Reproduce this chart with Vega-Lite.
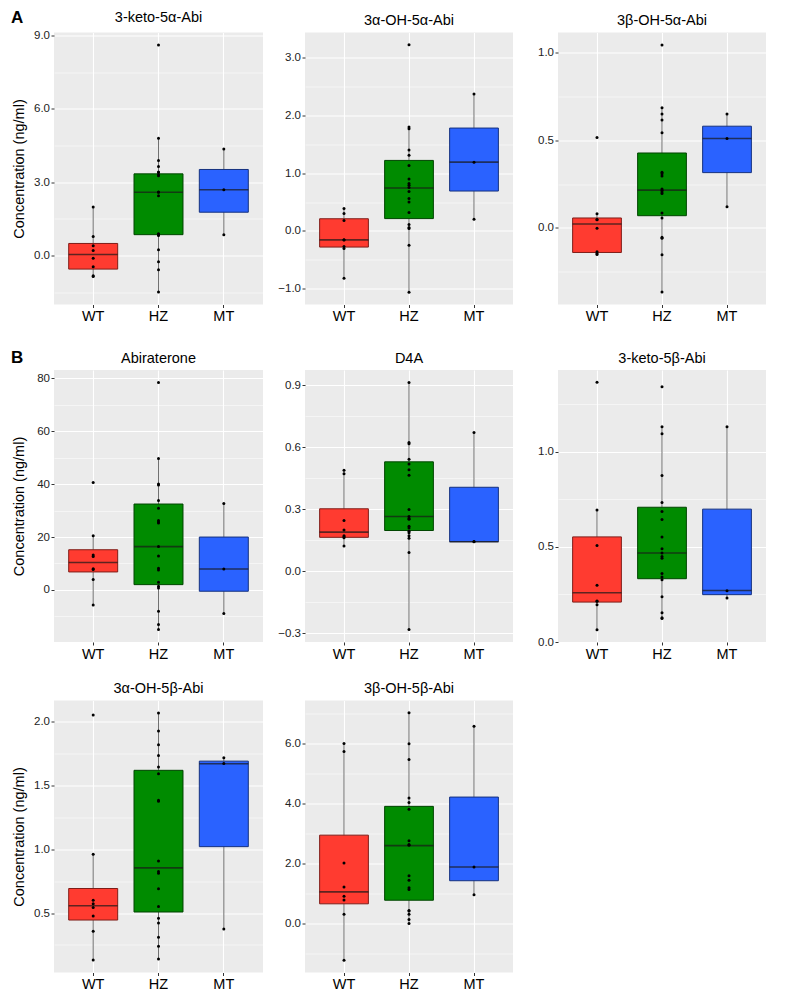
{
  "$schema": "https://vega.github.io/schema/vega-lite/v6.json",
  "padding": {"left": 11, "top": 8.5, "right": 5, "bottom": 5},
  "config": {
    "font": "Liberation Sans",
    "view": {"fill": "#EBEBEB", "stroke": null},
    "axis": {"domain": false, "gridColor": "#FFFFFF", "tickColor": "#333333", "tickSize": 3, "tickWidth": 1, "labelOverlap": false},
    "axisX": {"labelFontSize": 14.5, "labelColor": "#000000", "labelPadding": 2, "labelAngle": 0, "gridWidth": 1.1},
    "axisY": {"labelFontSize": 11.5, "labelColor": "#222222", "labelPadding": 1.5, "titleFontSize": 14.5, "titleFontWeight": "normal", "titleColor": "#000000", "titlePadding": 4, "labelOverlap": false},
    "title": {"fontSize": 14.5, "fontWeight": "normal", "color": "#000000", "offset": 4}
  },
  "datasets": {
    "stats": [
      {"panel": "P1", "group": "WT", "lo": -0.86, "q1": -0.56, "med": 0.04, "q3": 0.49, "hi": 1.98},
      {"panel": "P1", "group": "HZ", "lo": -1.5, "q1": 0.85, "med": 2.59, "q3": 3.34, "hi": 4.8},
      {"panel": "P1", "group": "MT", "lo": 0.85, "q1": 1.77, "med": 2.69, "q3": 3.52, "hi": 4.36},
      {"panel": "P2", "group": "WT", "lo": -0.82, "q1": -0.28, "med": -0.155, "q3": 0.21, "hi": 0.386},
      {"panel": "P2", "group": "HZ", "lo": -1.06, "q1": 0.213, "med": 0.742, "q3": 1.22, "hi": 1.8},
      {"panel": "P2", "group": "MT", "lo": 0.2, "q1": 0.69, "med": 1.19, "q3": 1.78, "hi": 2.37},
      {"panel": "P3", "group": "WT", "lo": -0.152, "q1": -0.14, "med": 0.023, "q3": 0.057, "hi": 0.081},
      {"panel": "P3", "group": "HZ", "lo": -0.366, "q1": 0.07, "med": 0.216, "q3": 0.428, "hi": 0.686},
      {"panel": "P3", "group": "MT", "lo": 0.121, "q1": 0.316, "med": 0.511, "q3": 0.581, "hi": 0.651},
      {"panel": "P4", "group": "WT", "lo": -5.7, "q1": 6.8, "med": 10.4, "q3": 15.2, "hi": 20.5},
      {"panel": "P4", "group": "HZ", "lo": -15.0, "q1": 2.0, "med": 16.4, "q3": 32.5, "hi": 49.7},
      {"panel": "P4", "group": "MT", "lo": -8.9, "q1": -0.5, "med": 7.9, "q3": 20.0, "hi": 32.7},
      {"panel": "P5", "group": "WT", "lo": 0.122, "q1": 0.164, "med": 0.189, "q3": 0.302, "hi": 0.488},
      {"panel": "P5", "group": "HZ", "lo": -0.282, "q1": 0.197, "med": 0.265, "q3": 0.529, "hi": 0.913},
      {"panel": "P5", "group": "MT", "lo": 0.143, "q1": 0.143, "med": 0.143, "q3": 0.406, "hi": 0.671},
      {"panel": "P6", "group": "WT", "lo": 0.065, "q1": 0.21, "med": 0.259, "q3": 0.553, "hi": 0.695},
      {"panel": "P6", "group": "HZ", "lo": 0.123, "q1": 0.333, "med": 0.468, "q3": 0.709, "hi": 1.133},
      {"panel": "P6", "group": "MT", "lo": 0.231, "q1": 0.249, "med": 0.271, "q3": 0.699, "hi": 1.133},
      {"panel": "P7", "group": "WT", "lo": 0.131, "q1": 0.445, "med": 0.557, "q3": 0.692, "hi": 0.96},
      {"panel": "P7", "group": "HZ", "lo": 0.139, "q1": 0.508, "med": 0.854, "q3": 1.618, "hi": 2.068},
      {"panel": "P7", "group": "MT", "lo": 0.375, "q1": 1.02, "med": 1.67, "q3": 1.69, "hi": 1.717},
      {"panel": "P8", "group": "WT", "lo": -1.22, "q1": 0.66, "med": 1.06, "q3": 2.95, "hi": 6.01},
      {"panel": "P8", "group": "HZ", "lo": 0.0, "q1": 0.78, "med": 2.6, "q3": 3.91, "hi": 7.03},
      {"panel": "P8", "group": "MT", "lo": 0.96, "q1": 1.43, "med": 1.89, "q3": 4.22, "hi": 6.58}
    ],
    "points": [
      {"panel": "P1", "group": "WT", "value": 1.98}, {"panel": "P1", "group": "WT", "value": 0.78}, {"panel": "P1", "group": "WT", "value": 0.4}, {"panel": "P1", "group": "WT", "value": 0.2}, {"panel": "P1", "group": "WT", "value": -0.12}, {"panel": "P1", "group": "WT", "value": -0.46}, {"panel": "P1", "group": "WT", "value": -0.83}, {"panel": "P1", "group": "WT", "value": -0.86},
      {"panel": "P1", "group": "HZ", "value": 8.62}, {"panel": "P1", "group": "HZ", "value": 4.8}, {"panel": "P1", "group": "HZ", "value": 3.89}, {"panel": "P1", "group": "HZ", "value": 3.64}, {"panel": "P1", "group": "HZ", "value": 3.42}, {"panel": "P1", "group": "HZ", "value": 3.4}, {"panel": "P1", "group": "HZ", "value": 3.26}, {"panel": "P1", "group": "HZ", "value": 3.3}, {"panel": "P1", "group": "HZ", "value": 2.44}, {"panel": "P1", "group": "HZ", "value": 2.59}, {"panel": "P1", "group": "HZ", "value": 2.6}, {"panel": "P1", "group": "HZ", "value": 0.87}, {"panel": "P1", "group": "HZ", "value": 0.89}, {"panel": "P1", "group": "HZ", "value": 0.85}, {"panel": "P1", "group": "HZ", "value": 0.82}, {"panel": "P1", "group": "HZ", "value": 0.23}, {"panel": "P1", "group": "HZ", "value": -0.26}, {"panel": "P1", "group": "HZ", "value": -0.59}, {"panel": "P1", "group": "HZ", "value": -1.5},
      {"panel": "P1", "group": "MT", "value": 4.36}, {"panel": "P1", "group": "MT", "value": 2.69}, {"panel": "P1", "group": "MT", "value": 0.85},
      {"panel": "P2", "group": "WT", "value": 0.386}, {"panel": "P2", "group": "WT", "value": 0.3}, {"panel": "P2", "group": "WT", "value": 0.18}, {"panel": "P2", "group": "WT", "value": -0.155}, {"panel": "P2", "group": "WT", "value": -0.156}, {"panel": "P2", "group": "WT", "value": -0.27}, {"panel": "P2", "group": "WT", "value": -0.305}, {"panel": "P2", "group": "WT", "value": -0.82},
      {"panel": "P2", "group": "HZ", "value": 3.22}, {"panel": "P2", "group": "HZ", "value": 1.77}, {"panel": "P2", "group": "HZ", "value": 1.8}, {"panel": "P2", "group": "HZ", "value": 1.4}, {"panel": "P2", "group": "HZ", "value": 1.31}, {"panel": "P2", "group": "HZ", "value": 1.13}, {"panel": "P2", "group": "HZ", "value": 0.9}, {"panel": "P2", "group": "HZ", "value": 0.82}, {"panel": "P2", "group": "HZ", "value": 0.79}, {"panel": "P2", "group": "HZ", "value": 0.75}, {"panel": "P2", "group": "HZ", "value": 0.68}, {"panel": "P2", "group": "HZ", "value": 0.56}, {"panel": "P2", "group": "HZ", "value": 0.5}, {"panel": "P2", "group": "HZ", "value": 0.32}, {"panel": "P2", "group": "HZ", "value": 0.11}, {"panel": "P2", "group": "HZ", "value": 0.06}, {"panel": "P2", "group": "HZ", "value": 0.04}, {"panel": "P2", "group": "HZ", "value": -0.25}, {"panel": "P2", "group": "HZ", "value": -1.06},
      {"panel": "P2", "group": "MT", "value": 2.37}, {"panel": "P2", "group": "MT", "value": 1.19}, {"panel": "P2", "group": "MT", "value": 0.2},
      {"panel": "P3", "group": "WT", "value": 0.517}, {"panel": "P3", "group": "WT", "value": 0.081}, {"panel": "P3", "group": "WT", "value": 0.047}, {"panel": "P3", "group": "WT", "value": 0.048}, {"panel": "P3", "group": "WT", "value": -0.002}, {"panel": "P3", "group": "WT", "value": -0.136}, {"panel": "P3", "group": "WT", "value": -0.146}, {"panel": "P3", "group": "WT", "value": -0.152},
      {"panel": "P3", "group": "HZ", "value": 1.045}, {"panel": "P3", "group": "HZ", "value": 0.686}, {"panel": "P3", "group": "HZ", "value": 0.65}, {"panel": "P3", "group": "HZ", "value": 0.616}, {"panel": "P3", "group": "HZ", "value": 0.544}, {"panel": "P3", "group": "HZ", "value": 0.318}, {"panel": "P3", "group": "HZ", "value": 0.31}, {"panel": "P3", "group": "HZ", "value": 0.297}, {"panel": "P3", "group": "HZ", "value": 0.222}, {"panel": "P3", "group": "HZ", "value": 0.216}, {"panel": "P3", "group": "HZ", "value": 0.205}, {"panel": "P3", "group": "HZ", "value": 0.197}, {"panel": "P3", "group": "HZ", "value": 0.085}, {"panel": "P3", "group": "HZ", "value": 0.057}, {"panel": "P3", "group": "HZ", "value": -0.053}, {"panel": "P3", "group": "HZ", "value": -0.059}, {"panel": "P3", "group": "HZ", "value": -0.153}, {"panel": "P3", "group": "HZ", "value": -0.366},
      {"panel": "P3", "group": "MT", "value": 0.651}, {"panel": "P3", "group": "MT", "value": 0.511}, {"panel": "P3", "group": "MT", "value": 0.121},
      {"panel": "P4", "group": "WT", "value": 40.6}, {"panel": "P4", "group": "WT", "value": 20.5}, {"panel": "P4", "group": "WT", "value": 13.2}, {"panel": "P4", "group": "WT", "value": 12.6}, {"panel": "P4", "group": "WT", "value": 8.05}, {"panel": "P4", "group": "WT", "value": 7.7}, {"panel": "P4", "group": "WT", "value": 3.9}, {"panel": "P4", "group": "WT", "value": -5.7},
      {"panel": "P4", "group": "HZ", "value": 78.5}, {"panel": "P4", "group": "HZ", "value": 49.7}, {"panel": "P4", "group": "HZ", "value": 39.7}, {"panel": "P4", "group": "HZ", "value": 40.1}, {"panel": "P4", "group": "HZ", "value": 33.8}, {"panel": "P4", "group": "HZ", "value": 30.9}, {"panel": "P4", "group": "HZ", "value": 26.3}, {"panel": "P4", "group": "HZ", "value": 25.3}, {"panel": "P4", "group": "HZ", "value": 25.7}, {"panel": "P4", "group": "HZ", "value": 16.4}, {"panel": "P4", "group": "HZ", "value": 12.8}, {"panel": "P4", "group": "HZ", "value": 8.2}, {"panel": "P4", "group": "HZ", "value": 7.5}, {"panel": "P4", "group": "HZ", "value": 2.9}, {"panel": "P4", "group": "HZ", "value": 1.4}, {"panel": "P4", "group": "HZ", "value": 0.75}, {"panel": "P4", "group": "HZ", "value": -8.05}, {"panel": "P4", "group": "HZ", "value": -13.1}, {"panel": "P4", "group": "HZ", "value": -15.0},
      {"panel": "P4", "group": "MT", "value": 32.7}, {"panel": "P4", "group": "MT", "value": 7.9}, {"panel": "P4", "group": "MT", "value": -8.9},
      {"panel": "P5", "group": "WT", "value": 0.488}, {"panel": "P5", "group": "WT", "value": 0.472}, {"panel": "P5", "group": "WT", "value": 0.245}, {"panel": "P5", "group": "WT", "value": 0.2}, {"panel": "P5", "group": "WT", "value": 0.172}, {"panel": "P5", "group": "WT", "value": 0.167}, {"panel": "P5", "group": "WT", "value": 0.162}, {"panel": "P5", "group": "WT", "value": 0.122},
      {"panel": "P5", "group": "HZ", "value": 0.913}, {"panel": "P5", "group": "HZ", "value": 0.622}, {"panel": "P5", "group": "HZ", "value": 0.616}, {"panel": "P5", "group": "HZ", "value": 0.542}, {"panel": "P5", "group": "HZ", "value": 0.518}, {"panel": "P5", "group": "HZ", "value": 0.491}, {"panel": "P5", "group": "HZ", "value": 0.464}, {"panel": "P5", "group": "HZ", "value": 0.298}, {"panel": "P5", "group": "HZ", "value": 0.255}, {"panel": "P5", "group": "HZ", "value": 0.265}, {"panel": "P5", "group": "HZ", "value": 0.252}, {"panel": "P5", "group": "HZ", "value": 0.218}, {"panel": "P5", "group": "HZ", "value": 0.209}, {"panel": "P5", "group": "HZ", "value": 0.194}, {"panel": "P5", "group": "HZ", "value": 0.186}, {"panel": "P5", "group": "HZ", "value": 0.172}, {"panel": "P5", "group": "HZ", "value": 0.159}, {"panel": "P5", "group": "HZ", "value": 0.091}, {"panel": "P5", "group": "HZ", "value": -0.282},
      {"panel": "P5", "group": "MT", "value": 0.671}, {"panel": "P5", "group": "MT", "value": 0.143}, {"panel": "P5", "group": "MT", "value": 0.144},
      {"panel": "P6", "group": "WT", "value": 1.366}, {"panel": "P6", "group": "WT", "value": 0.695}, {"panel": "P6", "group": "WT", "value": 0.508}, {"panel": "P6", "group": "WT", "value": 0.298}, {"panel": "P6", "group": "WT", "value": 0.215}, {"panel": "P6", "group": "WT", "value": 0.216}, {"panel": "P6", "group": "WT", "value": 0.196}, {"panel": "P6", "group": "WT", "value": 0.065},
      {"panel": "P6", "group": "HZ", "value": 1.343}, {"panel": "P6", "group": "HZ", "value": 1.133}, {"panel": "P6", "group": "HZ", "value": 1.096}, {"panel": "P6", "group": "HZ", "value": 0.876}, {"panel": "P6", "group": "HZ", "value": 0.734}, {"panel": "P6", "group": "HZ", "value": 0.687}, {"panel": "P6", "group": "HZ", "value": 0.644}, {"panel": "P6", "group": "HZ", "value": 0.552}, {"panel": "P6", "group": "HZ", "value": 0.49}, {"panel": "P6", "group": "HZ", "value": 0.468}, {"panel": "P6", "group": "HZ", "value": 0.45}, {"panel": "P6", "group": "HZ", "value": 0.441}, {"panel": "P6", "group": "HZ", "value": 0.361}, {"panel": "P6", "group": "HZ", "value": 0.342}, {"panel": "P6", "group": "HZ", "value": 0.327}, {"panel": "P6", "group": "HZ", "value": 0.238}, {"panel": "P6", "group": "HZ", "value": 0.154}, {"panel": "P6", "group": "HZ", "value": 0.128}, {"panel": "P6", "group": "HZ", "value": 0.123},
      {"panel": "P6", "group": "MT", "value": 1.133}, {"panel": "P6", "group": "MT", "value": 0.27}, {"panel": "P6", "group": "MT", "value": 0.231},
      {"panel": "P7", "group": "WT", "value": 2.052}, {"panel": "P7", "group": "WT", "value": 0.96}, {"panel": "P7", "group": "WT", "value": 0.601}, {"panel": "P7", "group": "WT", "value": 0.573}, {"panel": "P7", "group": "WT", "value": 0.544}, {"panel": "P7", "group": "WT", "value": 0.477}, {"panel": "P7", "group": "WT", "value": 0.357}, {"panel": "P7", "group": "WT", "value": 0.131},
      {"panel": "P7", "group": "HZ", "value": 2.068}, {"panel": "P7", "group": "HZ", "value": 1.927}, {"panel": "P7", "group": "HZ", "value": 1.818}, {"panel": "P7", "group": "HZ", "value": 1.735}, {"panel": "P7", "group": "HZ", "value": 1.644}, {"panel": "P7", "group": "HZ", "value": 1.592}, {"panel": "P7", "group": "HZ", "value": 1.384}, {"panel": "P7", "group": "HZ", "value": 1.376}, {"panel": "P7", "group": "HZ", "value": 0.908}, {"panel": "P7", "group": "HZ", "value": 0.825}, {"panel": "P7", "group": "HZ", "value": 0.812}, {"panel": "P7", "group": "HZ", "value": 0.69}, {"panel": "P7", "group": "HZ", "value": 0.552}, {"panel": "P7", "group": "HZ", "value": 0.459}, {"panel": "P7", "group": "HZ", "value": 0.422}, {"panel": "P7", "group": "HZ", "value": 0.31}, {"panel": "P7", "group": "HZ", "value": 0.24}, {"panel": "P7", "group": "HZ", "value": 0.139},
      {"panel": "P7", "group": "MT", "value": 1.717}, {"panel": "P7", "group": "MT", "value": 1.672}, {"panel": "P7", "group": "MT", "value": 0.375},
      {"panel": "P8", "group": "WT", "value": 6.01}, {"panel": "P8", "group": "WT", "value": 5.74}, {"panel": "P8", "group": "WT", "value": 2.02}, {"panel": "P8", "group": "WT", "value": 1.22}, {"panel": "P8", "group": "WT", "value": 0.91}, {"panel": "P8", "group": "WT", "value": 0.79}, {"panel": "P8", "group": "WT", "value": 0.31}, {"panel": "P8", "group": "WT", "value": -1.22},
      {"panel": "P8", "group": "HZ", "value": 7.03}, {"panel": "P8", "group": "HZ", "value": 6.0}, {"panel": "P8", "group": "HZ", "value": 5.47}, {"panel": "P8", "group": "HZ", "value": 4.19}, {"panel": "P8", "group": "HZ", "value": 4.04}, {"panel": "P8", "group": "HZ", "value": 3.81}, {"panel": "P8", "group": "HZ", "value": 2.76}, {"panel": "P8", "group": "HZ", "value": 2.64}, {"panel": "P8", "group": "HZ", "value": 2.61}, {"panel": "P8", "group": "HZ", "value": 1.6}, {"panel": "P8", "group": "HZ", "value": 1.45}, {"panel": "P8", "group": "HZ", "value": 1.2}, {"panel": "P8", "group": "HZ", "value": 1.14}, {"panel": "P8", "group": "HZ", "value": 0.42}, {"panel": "P8", "group": "HZ", "value": 0.44}, {"panel": "P8", "group": "HZ", "value": 0.31}, {"panel": "P8", "group": "HZ", "value": 0.14}, {"panel": "P8", "group": "HZ", "value": 0.0},
      {"panel": "P8", "group": "MT", "value": 6.58}, {"panel": "P8", "group": "MT", "value": 1.89}, {"panel": "P8", "group": "MT", "value": 0.96}
    ]
  },
  "spacing": 24.5,
  "resolve": {"scale": {"x": "independent", "y": "independent"}},
  "vconcat": [
    {
      "title": {"text": "A", "anchor": "start", "fontSize": 17, "fontWeight": "bold", "offset": 0, "dy": 30, "baseline": "alphabetic", "frame": "bounds"},
      "spacing": 10,
      "resolve": {"scale": {"x": "independent", "y": "independent"}},
      "hconcat": [
        {
          "title": "3-keto-5α-Abi", "width": 209, "height": 272,
          "resolve": {"axis": {"y": "independent"}},
          "encoding": {"x": {"field": "group", "type": "nominal", "sort": ["WT", "HZ", "MT"], "scale": {"paddingInner": 0.25, "paddingOuter": 0.225}, "axis": {"title": null, "grid": true, "bandPosition": 0.5, "labelAngle": 0}}},
          "layer": [
            {"data": {"name": "stats"}, "transform": [{"filter": "datum.panel === 'P1'"}], "mark": {"type": "rule", "color": "#333333", "strokeWidth": 0.7},
             "encoding": {"y": {"field": "lo", "type": "quantitative", "title": "Concentration (ng/ml)", "scale": {"domain": [-2.01, 9.13], "nice": false, "zero": false},
               "axis": {"values": [0, 3, 6, 9], "format": ".1f", "grid": true, "gridWidth": 1.1, "minExtent": 24, "maxExtent": 24}},
               "y2": {"field": "hi"}}},
            {"data": {"name": "stats"}, "transform": [{"filter": "datum.panel === 'P1'"}], "mark": {"type": "bar", "strokeWidth": 1},
             "encoding": {"y": {"field": "q1", "type": "quantitative", "axis": {"orient": "right", "values": [-1.5, 1.5, 4.5, 7.5], "grid": true, "gridWidth": 0.5, "labels": false, "ticks": false, "title": null, "minExtent": 0, "maxExtent": 0}}, "y2": {"field": "q3"},
               "fill": {"field": "group", "type": "nominal", "scale": {"domain": ["WT", "HZ", "MT"], "range": ["#FF3B30", "#008B00", "#2A62FF"]}, "legend": null},
               "stroke": {"field": "group", "type": "nominal", "scale": {"domain": ["WT", "HZ", "MT"], "range": ["#7F1D18", "#004500", "#15317F"]}, "legend": null}}},
            {"data": {"name": "stats"}, "transform": [{"filter": "datum.panel === 'P1'"}], "mark": {"type": "tick", "size": 49, "thickness": 1.6, "color": "#1a1a1a"},
             "encoding": {"y": {"field": "med", "type": "quantitative", "axis": null}}},
            {"data": {"name": "points"}, "transform": [{"filter": "datum.panel === 'P1'"}], "mark": {"type": "circle", "size": 9, "color": "#000000", "opacity": 1},
             "encoding": {"y": {"field": "value", "type": "quantitative", "axis": null}}}
          ]
        },
        {
          "title": "3α-OH-5α-Abi", "width": 208, "height": 272,
          "resolve": {"axis": {"y": "independent"}},
          "encoding": {"x": {"field": "group", "type": "nominal", "sort": ["WT", "HZ", "MT"], "scale": {"paddingInner": 0.25, "paddingOuter": 0.225}, "axis": {"title": null, "grid": true, "bandPosition": 0.5, "labelAngle": 0}}},
          "layer": [
            {"data": {"name": "stats"}, "transform": [{"filter": "datum.panel === 'P2'"}], "mark": {"type": "rule", "color": "#333333", "strokeWidth": 0.7},
             "encoding": {"y": {"field": "lo", "type": "quantitative", "title": null, "scale": {"domain": [-1.274, 3.434], "nice": false, "zero": false},
               "axis": {"values": [-1, 0, 1, 2, 3], "format": ".1f", "grid": true, "gridWidth": 1.1, "minExtent": 32, "maxExtent": 32}},
               "y2": {"field": "hi"}}},
            {"data": {"name": "stats"}, "transform": [{"filter": "datum.panel === 'P2'"}], "mark": {"type": "bar", "strokeWidth": 1},
             "encoding": {"y": {"field": "q1", "type": "quantitative", "axis": {"orient": "right", "values": [-0.5, 0.5, 1.5, 2.5], "grid": true, "gridWidth": 0.5, "labels": false, "ticks": false, "title": null, "minExtent": 0, "maxExtent": 0}}, "y2": {"field": "q3"},
               "fill": {"field": "group", "type": "nominal", "scale": {"domain": ["WT", "HZ", "MT"], "range": ["#FF3B30", "#008B00", "#2A62FF"]}, "legend": null},
               "stroke": {"field": "group", "type": "nominal", "scale": {"domain": ["WT", "HZ", "MT"], "range": ["#7F1D18", "#004500", "#15317F"]}, "legend": null}}},
            {"data": {"name": "stats"}, "transform": [{"filter": "datum.panel === 'P2'"}], "mark": {"type": "tick", "size": 49, "thickness": 1.6, "color": "#1a1a1a"},
             "encoding": {"y": {"field": "med", "type": "quantitative", "axis": null}}},
            {"data": {"name": "points"}, "transform": [{"filter": "datum.panel === 'P2'"}], "mark": {"type": "circle", "size": 9, "color": "#000000", "opacity": 1},
             "encoding": {"y": {"field": "value", "type": "quantitative", "axis": null}}}
          ]
        },
        {
          "title": "3β-OH-5α-Abi", "width": 208, "height": 272,
          "resolve": {"axis": {"y": "independent"}},
          "encoding": {"x": {"field": "group", "type": "nominal", "sort": ["WT", "HZ", "MT"], "scale": {"paddingInner": 0.25, "paddingOuter": 0.225}, "axis": {"title": null, "grid": true, "bandPosition": 0.5, "labelAngle": 0}}},
          "layer": [
            {"data": {"name": "stats"}, "transform": [{"filter": "datum.panel === 'P3'"}], "mark": {"type": "rule", "color": "#333333", "strokeWidth": 0.7},
             "encoding": {"y": {"field": "lo", "type": "quantitative", "title": null, "scale": {"domain": [-0.437, 1.116], "nice": false, "zero": false},
               "axis": {"values": [0, 0.5, 1], "format": ".1f", "grid": true, "gridWidth": 1.1, "minExtent": 35, "maxExtent": 35}},
               "y2": {"field": "hi"}}},
            {"data": {"name": "stats"}, "transform": [{"filter": "datum.panel === 'P3'"}], "mark": {"type": "bar", "strokeWidth": 1},
             "encoding": {"y": {"field": "q1", "type": "quantitative", "axis": {"orient": "right", "values": [-0.25, 0.25, 0.75], "grid": true, "gridWidth": 0.5, "labels": false, "ticks": false, "title": null, "minExtent": 0, "maxExtent": 0}}, "y2": {"field": "q3"},
               "fill": {"field": "group", "type": "nominal", "scale": {"domain": ["WT", "HZ", "MT"], "range": ["#FF3B30", "#008B00", "#2A62FF"]}, "legend": null},
               "stroke": {"field": "group", "type": "nominal", "scale": {"domain": ["WT", "HZ", "MT"], "range": ["#7F1D18", "#004500", "#15317F"]}, "legend": null}}},
            {"data": {"name": "stats"}, "transform": [{"filter": "datum.panel === 'P3'"}], "mark": {"type": "tick", "size": 49, "thickness": 1.6, "color": "#1a1a1a"},
             "encoding": {"y": {"field": "med", "type": "quantitative", "axis": null}}},
            {"data": {"name": "points"}, "transform": [{"filter": "datum.panel === 'P3'"}], "mark": {"type": "circle", "size": 9, "color": "#000000", "opacity": 1},
             "encoding": {"y": {"field": "value", "type": "quantitative", "axis": null}}}
          ]
        }
      ]
    },
    {
      "spacing": 19.5,
      "resolve": {"scale": {"x": "independent", "y": "independent"}},
      "vconcat": [
        {
          "title": {"text": "B", "anchor": "start", "fontSize": 17, "fontWeight": "bold", "offset": -29, "baseline": "alphabetic", "frame": "bounds"},
          "spacing": 10,
          "resolve": {"scale": {"x": "independent", "y": "independent"}},
          "hconcat": [
            {
              "title": "Abiraterone", "width": 209, "height": 272,
              "resolve": {"axis": {"y": "independent"}},
              "encoding": {"x": {"field": "group", "type": "nominal", "sort": ["WT", "HZ", "MT"], "scale": {"paddingInner": 0.25, "paddingOuter": 0.225}, "axis": {"title": null, "grid": true, "bandPosition": 0.5, "labelAngle": 0}}},
              "layer": [
                {"data": {"name": "stats"}, "transform": [{"filter": "datum.panel === 'P4'"}], "mark": {"type": "rule", "color": "#333333", "strokeWidth": 0.7},
                 "encoding": {"y": {"field": "lo", "type": "quantitative", "title": "Concentration (ng/ml)", "scale": {"domain": [-19.7, 83.2], "nice": false, "zero": false},
                   "axis": {"values": [0, 20, 40, 60, 80], "format": "d", "grid": true, "gridWidth": 1.1, "minExtent": 24, "maxExtent": 24}},
                   "y2": {"field": "hi"}}},
                {"data": {"name": "stats"}, "transform": [{"filter": "datum.panel === 'P4'"}], "mark": {"type": "bar", "strokeWidth": 1},
                 "encoding": {"y": {"field": "q1", "type": "quantitative", "axis": {"orient": "right", "values": [-10, 10, 30, 50, 70], "grid": true, "gridWidth": 0.5, "labels": false, "ticks": false, "title": null, "minExtent": 0, "maxExtent": 0}}, "y2": {"field": "q3"},
                   "fill": {"field": "group", "type": "nominal", "scale": {"domain": ["WT", "HZ", "MT"], "range": ["#FF3B30", "#008B00", "#2A62FF"]}, "legend": null},
                   "stroke": {"field": "group", "type": "nominal", "scale": {"domain": ["WT", "HZ", "MT"], "range": ["#7F1D18", "#004500", "#15317F"]}, "legend": null}}},
                {"data": {"name": "stats"}, "transform": [{"filter": "datum.panel === 'P4'"}], "mark": {"type": "tick", "size": 49, "thickness": 1.6, "color": "#1a1a1a"},
                 "encoding": {"y": {"field": "med", "type": "quantitative", "axis": null}}},
                {"data": {"name": "points"}, "transform": [{"filter": "datum.panel === 'P4'"}], "mark": {"type": "circle", "size": 9, "color": "#000000", "opacity": 1},
                 "encoding": {"y": {"field": "value", "type": "quantitative", "axis": null}}}
              ]
            },
            {
              "title": "D4A", "width": 208, "height": 272,
              "resolve": {"axis": {"y": "independent"}},
              "encoding": {"x": {"field": "group", "type": "nominal", "sort": ["WT", "HZ", "MT"], "scale": {"paddingInner": 0.25, "paddingOuter": 0.225}, "axis": {"title": null, "grid": true, "bandPosition": 0.5, "labelAngle": 0}}},
              "layer": [
                {"data": {"name": "stats"}, "transform": [{"filter": "datum.panel === 'P5'"}], "mark": {"type": "rule", "color": "#333333", "strokeWidth": 0.7},
                 "encoding": {"y": {"field": "lo", "type": "quantitative", "title": null, "scale": {"domain": [-0.342, 0.973], "nice": false, "zero": false},
                   "axis": {"values": [-0.3, 0, 0.3, 0.6, 0.9], "format": ".1f", "grid": true, "gridWidth": 1.1, "minExtent": 32, "maxExtent": 32}},
                   "y2": {"field": "hi"}}},
                {"data": {"name": "stats"}, "transform": [{"filter": "datum.panel === 'P5'"}], "mark": {"type": "bar", "strokeWidth": 1},
                 "encoding": {"y": {"field": "q1", "type": "quantitative", "axis": {"orient": "right", "values": [-0.15, 0.15, 0.45, 0.75], "grid": true, "gridWidth": 0.5, "labels": false, "ticks": false, "title": null, "minExtent": 0, "maxExtent": 0}}, "y2": {"field": "q3"},
                   "fill": {"field": "group", "type": "nominal", "scale": {"domain": ["WT", "HZ", "MT"], "range": ["#FF3B30", "#008B00", "#2A62FF"]}, "legend": null},
                   "stroke": {"field": "group", "type": "nominal", "scale": {"domain": ["WT", "HZ", "MT"], "range": ["#7F1D18", "#004500", "#15317F"]}, "legend": null}}},
                {"data": {"name": "stats"}, "transform": [{"filter": "datum.panel === 'P5'"}], "mark": {"type": "tick", "size": 49, "thickness": 1.6, "color": "#1a1a1a"},
                 "encoding": {"y": {"field": "med", "type": "quantitative", "axis": null}}},
                {"data": {"name": "points"}, "transform": [{"filter": "datum.panel === 'P5'"}], "mark": {"type": "circle", "size": 9, "color": "#000000", "opacity": 1},
                 "encoding": {"y": {"field": "value", "type": "quantitative", "axis": null}}}
              ]
            },
            {
              "title": "3-keto-5β-Abi", "width": 208, "height": 272,
              "resolve": {"axis": {"y": "independent"}},
              "encoding": {"x": {"field": "group", "type": "nominal", "sort": ["WT", "HZ", "MT"], "scale": {"paddingInner": 0.25, "paddingOuter": 0.225}, "axis": {"title": null, "grid": true, "bandPosition": 0.5, "labelAngle": 0}}},
              "layer": [
                {"data": {"name": "stats"}, "transform": [{"filter": "datum.panel === 'P6'"}], "mark": {"type": "rule", "color": "#333333", "strokeWidth": 0.7},
                 "encoding": {"y": {"field": "lo", "type": "quantitative", "title": null, "scale": {"domain": [0, 1.431], "nice": false, "zero": false},
                   "axis": {"values": [0, 0.5, 1], "format": ".1f", "grid": true, "gridWidth": 1.1, "minExtent": 35, "maxExtent": 35}},
                   "y2": {"field": "hi"}}},
                {"data": {"name": "stats"}, "transform": [{"filter": "datum.panel === 'P6'"}], "mark": {"type": "bar", "strokeWidth": 1},
                 "encoding": {"y": {"field": "q1", "type": "quantitative", "axis": {"orient": "right", "values": [0.25, 0.75, 1.25], "grid": true, "gridWidth": 0.5, "labels": false, "ticks": false, "title": null, "minExtent": 0, "maxExtent": 0}}, "y2": {"field": "q3"},
                   "fill": {"field": "group", "type": "nominal", "scale": {"domain": ["WT", "HZ", "MT"], "range": ["#FF3B30", "#008B00", "#2A62FF"]}, "legend": null},
                   "stroke": {"field": "group", "type": "nominal", "scale": {"domain": ["WT", "HZ", "MT"], "range": ["#7F1D18", "#004500", "#15317F"]}, "legend": null}}},
                {"data": {"name": "stats"}, "transform": [{"filter": "datum.panel === 'P6'"}], "mark": {"type": "tick", "size": 49, "thickness": 1.6, "color": "#1a1a1a"},
                 "encoding": {"y": {"field": "med", "type": "quantitative", "axis": null}}},
                {"data": {"name": "points"}, "transform": [{"filter": "datum.panel === 'P6'"}], "mark": {"type": "circle", "size": 9, "color": "#000000", "opacity": 1},
                 "encoding": {"y": {"field": "value", "type": "quantitative", "axis": null}}}
              ]
            }
          ]
        },
        {
          "spacing": 10,
          "resolve": {"scale": {"x": "independent", "y": "independent"}},
          "hconcat": [
            {
              "title": "3α-OH-5β-Abi", "width": 209, "height": 272,
              "resolve": {"axis": {"y": "independent"}},
              "encoding": {"x": {"field": "group", "type": "nominal", "sort": ["WT", "HZ", "MT"], "scale": {"paddingInner": 0.25, "paddingOuter": 0.225}, "axis": {"title": null, "grid": true, "bandPosition": 0.5, "labelAngle": 0}}},
              "layer": [
                {"data": {"name": "stats"}, "transform": [{"filter": "datum.panel === 'P7'"}], "mark": {"type": "rule", "color": "#333333", "strokeWidth": 0.7},
                 "encoding": {"y": {"field": "lo", "type": "quantitative", "title": "Concentration (ng/ml)", "scale": {"domain": [0.034, 2.165], "nice": false, "zero": false},
                   "axis": {"values": [0.5, 1, 1.5, 2], "format": ".1f", "grid": true, "gridWidth": 1.1, "minExtent": 24, "maxExtent": 24}},
                   "y2": {"field": "hi"}}},
                {"data": {"name": "stats"}, "transform": [{"filter": "datum.panel === 'P7'"}], "mark": {"type": "bar", "strokeWidth": 1},
                 "encoding": {"y": {"field": "q1", "type": "quantitative", "axis": {"orient": "right", "values": [0.25, 0.75, 1.25, 1.75], "grid": true, "gridWidth": 0.5, "labels": false, "ticks": false, "title": null, "minExtent": 0, "maxExtent": 0}}, "y2": {"field": "q3"},
                   "fill": {"field": "group", "type": "nominal", "scale": {"domain": ["WT", "HZ", "MT"], "range": ["#FF3B30", "#008B00", "#2A62FF"]}, "legend": null},
                   "stroke": {"field": "group", "type": "nominal", "scale": {"domain": ["WT", "HZ", "MT"], "range": ["#7F1D18", "#004500", "#15317F"]}, "legend": null}}},
                {"data": {"name": "stats"}, "transform": [{"filter": "datum.panel === 'P7'"}], "mark": {"type": "tick", "size": 49, "thickness": 1.6, "color": "#1a1a1a"},
                 "encoding": {"y": {"field": "med", "type": "quantitative", "axis": null}}},
                {"data": {"name": "points"}, "transform": [{"filter": "datum.panel === 'P7'"}], "mark": {"type": "circle", "size": 9, "color": "#000000", "opacity": 1},
                 "encoding": {"y": {"field": "value", "type": "quantitative", "axis": null}}}
              ]
            },
            {
              "title": "3β-OH-5β-Abi", "width": 208, "height": 272,
              "resolve": {"axis": {"y": "independent"}},
              "encoding": {"x": {"field": "group", "type": "nominal", "sort": ["WT", "HZ", "MT"], "scale": {"paddingInner": 0.25, "paddingOuter": 0.225}, "axis": {"title": null, "grid": true, "bandPosition": 0.5, "labelAngle": 0}}},
              "layer": [
                {"data": {"name": "stats"}, "transform": [{"filter": "datum.panel === 'P8'"}], "mark": {"type": "rule", "color": "#333333", "strokeWidth": 0.7},
                 "encoding": {"y": {"field": "lo", "type": "quantitative", "title": null, "scale": {"domain": [-1.63, 7.44], "nice": false, "zero": false},
                   "axis": {"values": [0, 2, 4, 6], "format": ".1f", "grid": true, "gridWidth": 1.1, "minExtent": 32, "maxExtent": 32}},
                   "y2": {"field": "hi"}}},
                {"data": {"name": "stats"}, "transform": [{"filter": "datum.panel === 'P8'"}], "mark": {"type": "bar", "strokeWidth": 1},
                 "encoding": {"y": {"field": "q1", "type": "quantitative", "axis": {"orient": "right", "values": [-1, 1, 3, 5, 7], "grid": true, "gridWidth": 0.5, "labels": false, "ticks": false, "title": null, "minExtent": 0, "maxExtent": 0}}, "y2": {"field": "q3"},
                   "fill": {"field": "group", "type": "nominal", "scale": {"domain": ["WT", "HZ", "MT"], "range": ["#FF3B30", "#008B00", "#2A62FF"]}, "legend": null},
                   "stroke": {"field": "group", "type": "nominal", "scale": {"domain": ["WT", "HZ", "MT"], "range": ["#7F1D18", "#004500", "#15317F"]}, "legend": null}}},
                {"data": {"name": "stats"}, "transform": [{"filter": "datum.panel === 'P8'"}], "mark": {"type": "tick", "size": 49, "thickness": 1.6, "color": "#1a1a1a"},
                 "encoding": {"y": {"field": "med", "type": "quantitative", "axis": null}}},
                {"data": {"name": "points"}, "transform": [{"filter": "datum.panel === 'P8'"}], "mark": {"type": "circle", "size": 9, "color": "#000000", "opacity": 1},
                 "encoding": {"y": {"field": "value", "type": "quantitative", "axis": null}}}
              ]
            }
          ]
        }
      ]
    }
  ]
}
